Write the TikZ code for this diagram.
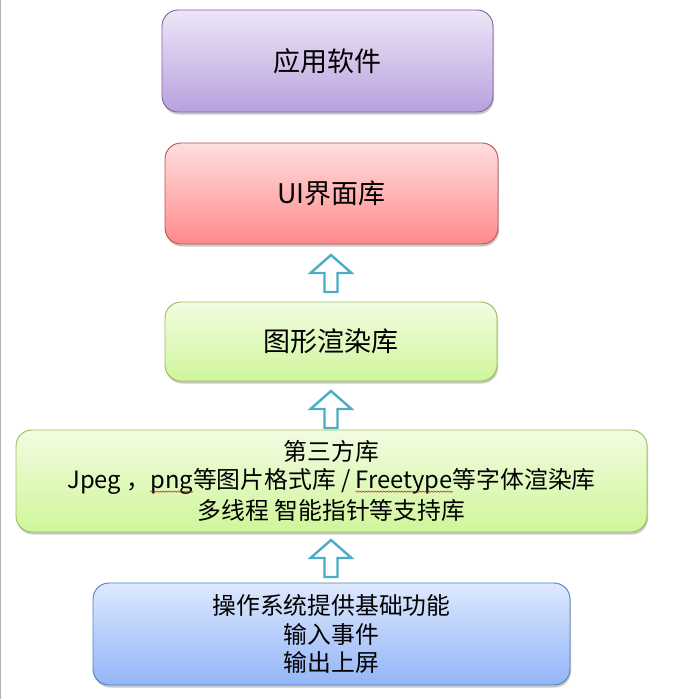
\documentclass[tikz,border=0pt]{standalone}
\usepackage{fontspec}
\setmainfont{Noto Sans CJK SC}
\usetikzlibrary{shadows,decorations.pathmorphing}

\definecolor{appTop}{HTML}{EDE5F7}
\definecolor{appBot}{HTML}{B9A1DD}
\definecolor{appLine}{HTML}{8064A2}
\definecolor{uiTop}{HTML}{FFDEDE}
\definecolor{uiBot}{HTML}{FF8A8A}
\definecolor{uiLine}{HTML}{C0504D}
\definecolor{grTop}{HTML}{F2FCE2}
\definecolor{grBot}{HTML}{CFF69A}
\definecolor{grLine}{HTML}{9BBB59}
\definecolor{osTop}{HTML}{DDE9FD}
\definecolor{osBot}{HTML}{93B5F8}
\definecolor{osLine}{HTML}{4F81BD}
\definecolor{arrowLine}{HTML}{4BACC6}

\tikzset{
  layer/.style={rounded corners=16pt, line width=0.9pt, inner sep=0pt,
    drop shadow={shadow xshift=1pt, shadow yshift=-2.5pt, opacity=0.35, fill=black!60},
    align=center, text=black},
  bigtext/.style={font=\fontsize{27pt}{30pt}\selectfont},
  smalltext/.style={font=\fontsize{23.8pt}{28.5pt}\selectfont},
  txt/.style={smalltext, inner sep=0pt, outer sep=0pt, align=center},
  ghost/.style={smalltext, inner sep=0pt, outer sep=0pt, anchor=base west},
  squiggle/.style={red!85!black, line width=0.5pt, decorate,
    decoration={snake, amplitude=0.7pt, segment length=3pt}},
  uparrow/.style={draw=arrowLine, line width=2.4pt, fill=white, line join=miter},
}

\newcommand\blockarrow[1]{%
  \draw[uparrow,shift={(#1)}] (0,0) -- (20.5,18) -- (6.5,18) -- (6.5,37)
    -- (-6.5,37) -- (-6.5,18) -- (-20.5,18) -- cycle;}

\begin{document}
\begin{tikzpicture}[x=1pt,y=-1pt]
\useasboundingbox (0,0) rectangle (685,699);
\fill[white] (0,0) rectangle (685,699);
\draw[black!30,line width=1.2pt] (0.6,0) -- (0.6,699);

\node[layer, bigtext, top color=appTop, bottom color=appBot, draw=appLine,
  minimum width=331pt, minimum height=102pt] (app) at (327.5,61) {应用软件};
\node[layer, bigtext, top color=uiTop, bottom color=uiBot, draw=uiLine,
  minimum width=333pt, minimum height=101pt] (ui) at (331.5,193.5) {UI界面库};
\node[layer, bigtext, top color=grTop, bottom color=grBot, draw=grLine,
  minimum width=332pt, minimum height=79pt] (gfx) at (331,341.5) {图形渲染库};

% third-party libraries: box, then its three lines
\node[layer, top color=grTop, bottom color=grBot, draw=grLine,
  minimum width=631pt, minimum height=102pt] (third) at (331.5,481) {};
\node[txt] (t1) at (331.5,451) {第三方库};
\node[txt] (t2) at (331.5,481) {Jpeg ，png等图片格式库 / Freetype等字体渲染库};
\node[txt] (t3) at (331.5,510) {多线程 智能指针等支持库};
% invisible copies that locate the underlined words
\node[ghost] (g1) at (t2.base west) {\phantom{Jpeg ，}};
\node[ghost] (png) at (g1.base east) {\phantom{png}};
\node[ghost] (g2) at (png.base east) {\phantom{等图片格式库 / }};
\node[ghost] (ft) at (g2.base east) {\phantom{Freetype}};
\draw[squiggle] ([yshift=-3.5pt]png.base west) -- ([yshift=-3.5pt]png.base east);
\draw[squiggle] ([yshift=-3.5pt]ft.base west) -- ([yshift=-3.5pt]ft.base east);

\node[layer, smalltext, top color=osTop, bottom color=osBot, draw=osLine,
  minimum width=477pt, minimum height=102pt] (os) at (331.5,634)
  {操作系统提供基础功能\\输入事件\\输出上屏};

\coordinate (a1) at (331,255);
\coordinate (a2) at (331,391);
\coordinate (a3) at (331,540);
\blockarrow{a1}
\blockarrow{a2}
\blockarrow{a3}
\end{tikzpicture}
\end{document}
